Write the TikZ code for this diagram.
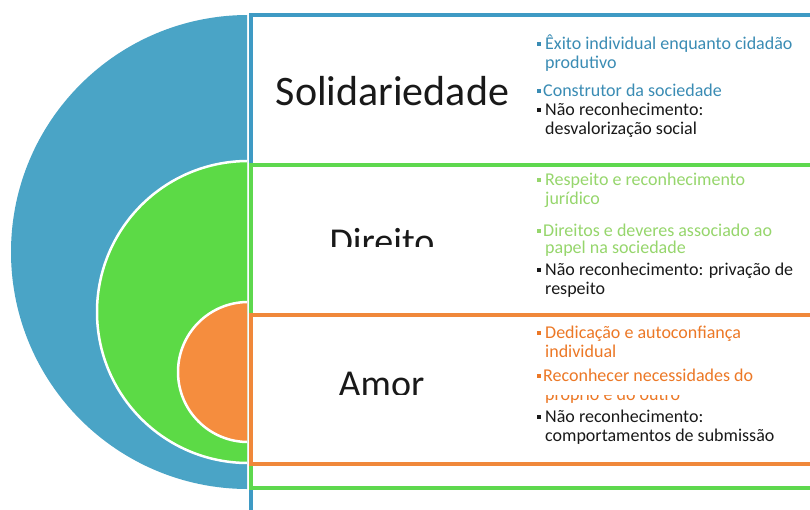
\documentclass[tikz,border=0pt]{standalone}
\usepackage{fontspec}
\setmainfont{Carlito}
\definecolor{cblue}{RGB}{74,164,198}
\definecolor{cgreen}{RGB}{92,218,70}
\definecolor{corange}{RGB}{245,141,62}
\definecolor{lblue}{RGB}{62,154,196}
\definecolor{lgreen}{RGB}{94,216,78}
\definecolor{lorange}{RGB}{240,136,58}
\definecolor{tblue}{RGB}{58,140,180}
\definecolor{tgreen}{RGB}{150,214,108}
\definecolor{torange}{RGB}{236,120,38}
\definecolor{tblack}{RGB}{25,25,25}
\newcommand{\mybul}[2]{\fill[#1] (536.5,#2-6.8) rectangle ++(4,4);}
\begin{document}
\begin{tikzpicture}[x=1pt,y=-1pt,
  bigtitle/.style={inner sep=0pt, anchor=base, font=\fontsize{42}{46}\selectfont, text=tblack},
  midtitle/.style={inner sep=0pt, anchor=base, font=\fontsize{38}{42}\selectfont, text=tblack},
  item/.style={inner sep=0pt, anchor=base west, font=\fontsize{18}{20}\selectfont},
  boxline/.style={line width=3.3pt, fill=white}
]
\useasboundingbox (0,0) rectangle (810,509);
\clip (0,0) rectangle (810,509);
\fill[white] (0,0) rectangle (810,509);
% half discs
\begin{scope}
  \clip (0,0) rectangle (247,509);
  \fill[cblue] (248,252) circle[radius=237];
  \fill[cgreen,draw=white,line width=2.5pt] (248,312) circle[radius=151];
  \fill[corange,draw=white,line width=2.5pt] (248,372) circle[radius=70];
\end{scope}
% boxes
\draw[boxline,draw=lblue] (251,15) rectangle (840,545);
\draw[boxline,draw=lgreen] (251,165) rectangle (840,488);
\draw[boxline,draw=lorange] (251,315) rectangle (840,464);
% titles
\node[bigtitle] (sol) at (392.5,105) {Solidariedade};
\begin{scope}
  \clip (300,200) rectangle (470,246);
  \node[midtitle] (dir) at (382,254.5) {Direito};
\end{scope}
\begin{scope}
  \clip (300,350) rectangle (470,394);
  \node[midtitle] (amor) at (381.5,396.5) {Amor};
\end{scope}
% Solidariedade items
\mybul{tblue}{49}
\node[item,text=tblue] (s1a) at (545,49) {Êxito individual enquanto cidadão};
\node[item,text=tblue] (s1b) at (545,68) {produtivo};
\mybul{tblue}{96}
\node[item,text=tblue] (s2a) at (543,96) {Construtor da sociedade};
\mybul{tblack}{115}
\node[item,text=tblack] (s3a) at (545,115) {Não reconhecimento:};
\node[item,text=tblack] (s3b) at (545,134) {desvalorização social};
% Direito items
\mybul{tgreen}{185}
\node[item,text=tgreen] (d1a) at (545,185) {Respeito e reconhecimento};
\node[item,text=tgreen] (d1b) at (545,204) {jurídico};
\mybul{tgreen}{236}
\node[item,text=tgreen] (d2a) at (543,236) {Direitos e deveres associado ao};
\node[item,text=tgreen] (d2b) at (545,253) {papel na sociedade};
\mybul{tblack}{275}
\node[item,text=tblack] (d3a) at (545,275) {Não reconhecimento: privação de};
\node[item,text=tblack] (d3b) at (545,294) {respeito};
% Amor items
\mybul{torange}{338}
\node[item,text=torange] (a1a) at (545,338) {Dedicação e autoconfiança};
\node[item,text=torange] (a1b) at (545,357) {individual};
\mybul{torange}{381}
\node[item,text=torange] (a2a) at (543,381) {Reconhecer necessidades do};
\begin{scope}
  \clip (540,395) rectangle (800,410);
  \node[item,text=torange] (a2b) at (545,400) {próprio e do outro};
\end{scope}
\mybul{tblack}{422}
\node[item,text=tblack] (a3a) at (545,422) {Não reconhecimento:};
\node[item,text=tblack] (a3b) at (545,441) {comportamentos de submissão};
\end{tikzpicture}
\end{document}
